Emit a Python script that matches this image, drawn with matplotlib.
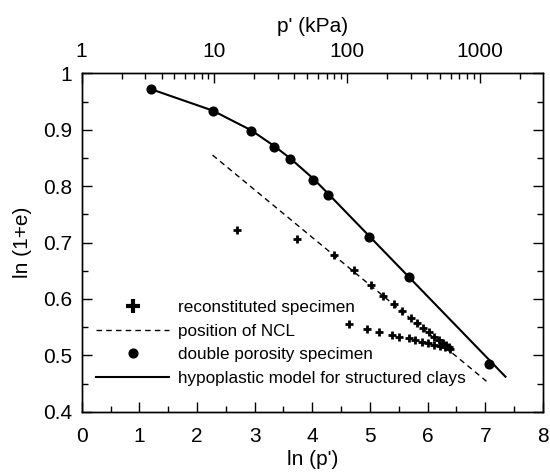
import matplotlib
matplotlib.use("Agg")
import matplotlib.pyplot as plt
from matplotlib.ticker import MultipleLocator, FuncFormatter, LogLocator, NullFormatter
from matplotlib.lines import Line2D
import numpy as np

plt.rcParams["font.family"] = ["Liberation Sans", "DejaVu Sans"]

# reconstituted specimen (crosses)
rec_ln_p = [2.70, 3.73, 4.38, 4.73, 5.02, 5.22, 5.41, 5.55, 5.71, 5.81, 5.92, 6.03,
            6.11, 6.19, 6.26, 6.31, 6.37, 6.39, 6.30, 6.21, 6.11, 6.01, 5.90, 5.78,
            5.67, 5.51, 5.38, 5.16, 4.95, 4.63]
rec_ln_e = [0.723, 0.706, 0.677, 0.651, 0.625, 0.606, 0.591, 0.578, 0.566, 0.558,
            0.548, 0.541, 0.533, 0.528, 0.522, 0.518, 0.514, 0.512, 0.515, 0.517,
            0.519, 0.521, 0.524, 0.527, 0.530, 0.533, 0.536, 0.542, 0.547, 0.555]

# position of NCL
ncl_ln_p = [2.27, 7.02]
ncl_ln_e = [0.855, 0.454]

# double porosity specimen
dp_ln_p = [1.20, 2.27, 2.94, 3.34, 3.62, 4.02, 4.28, 4.99, 5.68, 7.06]
dp_ln_e = [0.972, 0.933, 0.898, 0.870, 0.848, 0.811, 0.785, 0.710, 0.638, 0.484]

# hypoplastic model
model_ln_p = [1.20, 2.27, 2.94, 3.34, 3.62, 4.02, 4.28, 7.35]
model_ln_e = [0.972, 0.934, 0.899, 0.871, 0.849, 0.813, 0.786, 0.462]

fig = plt.figure(figsize=(5.5, 4.73), dpi=100)
ax = fig.add_axes([0.1485, 0.1296, 0.8387, 0.7154])

ax.plot(ncl_ln_p, ncl_ln_e, color="black", linewidth=1.0, dashes=(4, 3))
ax.plot(model_ln_p, model_ln_e, color="black", linewidth=1.5)
ax.plot(dp_ln_p, dp_ln_e, linestyle="none", marker="o", markersize=6.3,
        color="black")
ax.plot(rec_ln_p, rec_ln_e, linestyle="none", marker="+", markersize=6,
        markeredgewidth=2, color="black")

ax.set_xlim(0, 8)
ax.set_ylim(0.4, 1.0)
ax.xaxis.set_major_locator(MultipleLocator(1))
ax.xaxis.set_minor_locator(MultipleLocator(0.5))
ax.yaxis.set_major_locator(MultipleLocator(0.1))
ax.yaxis.set_minor_locator(MultipleLocator(0.05))
ax.yaxis.set_major_formatter(FuncFormatter(lambda v, p: "%g" % round(v, 2)))
ax.tick_params(which="both", direction="in", top=False, right=True,
               labelsize=15, width=1)
ax.tick_params(axis="x", pad=11)
ax.tick_params(axis="y", pad=7)
ax.tick_params(which="major", length=7)
ax.tick_params(which="minor", length=4)
ax.set_xlabel("ln (p')", fontsize=15, labelpad=3)
ax.set_ylabel("ln (1+e)", fontsize=15, labelpad=8)

# top axis in kPa
ax2 = ax.twiny()
ax2.set_xscale("log")
ax2.set_xlim(np.exp(0), np.exp(8))
ax2.xaxis.set_major_locator(LogLocator(base=10))
ax2.xaxis.set_minor_locator(LogLocator(base=10, subs=np.arange(2, 10)))
ax2.xaxis.set_major_formatter(FuncFormatter(lambda v, p: "%g" % v))
ax2.xaxis.set_minor_formatter(NullFormatter())
ax2.tick_params(which="both", direction="in", labelsize=15, pad=9, width=1)
ax2.tick_params(which="major", length=7)
ax2.tick_params(which="minor", length=4)
ax2.set_xlabel("p' (kPa)", fontsize=15, labelpad=7)

for a in (ax, ax2):
    for s in a.spines.values():
        s.set_linewidth(1.0)

handles = [
    Line2D([], [], linestyle="none", marker="+", markersize=10,
           markeredgewidth=3, color="black"),
    Line2D([], [], color="black", linewidth=1.0, dashes=(4, 3)),
    Line2D([], [], linestyle="none", marker="o", markersize=6.3, color="black"),
    Line2D([], [], color="black", linewidth=1.5),
]
labels = ["reconstituted specimen", "position of NCL",
          "double porosity specimen", "hypoplastic model for structured clays"]
ax.legend(handles, labels, loc="lower left", bbox_to_anchor=(0.031, 0.076),
          frameon=False, fontsize=12.3, handlelength=4.3, handletextpad=0.5,
          labelspacing=0.5, borderpad=0, borderaxespad=0)

fig.savefig("out.png", dpi=100)
